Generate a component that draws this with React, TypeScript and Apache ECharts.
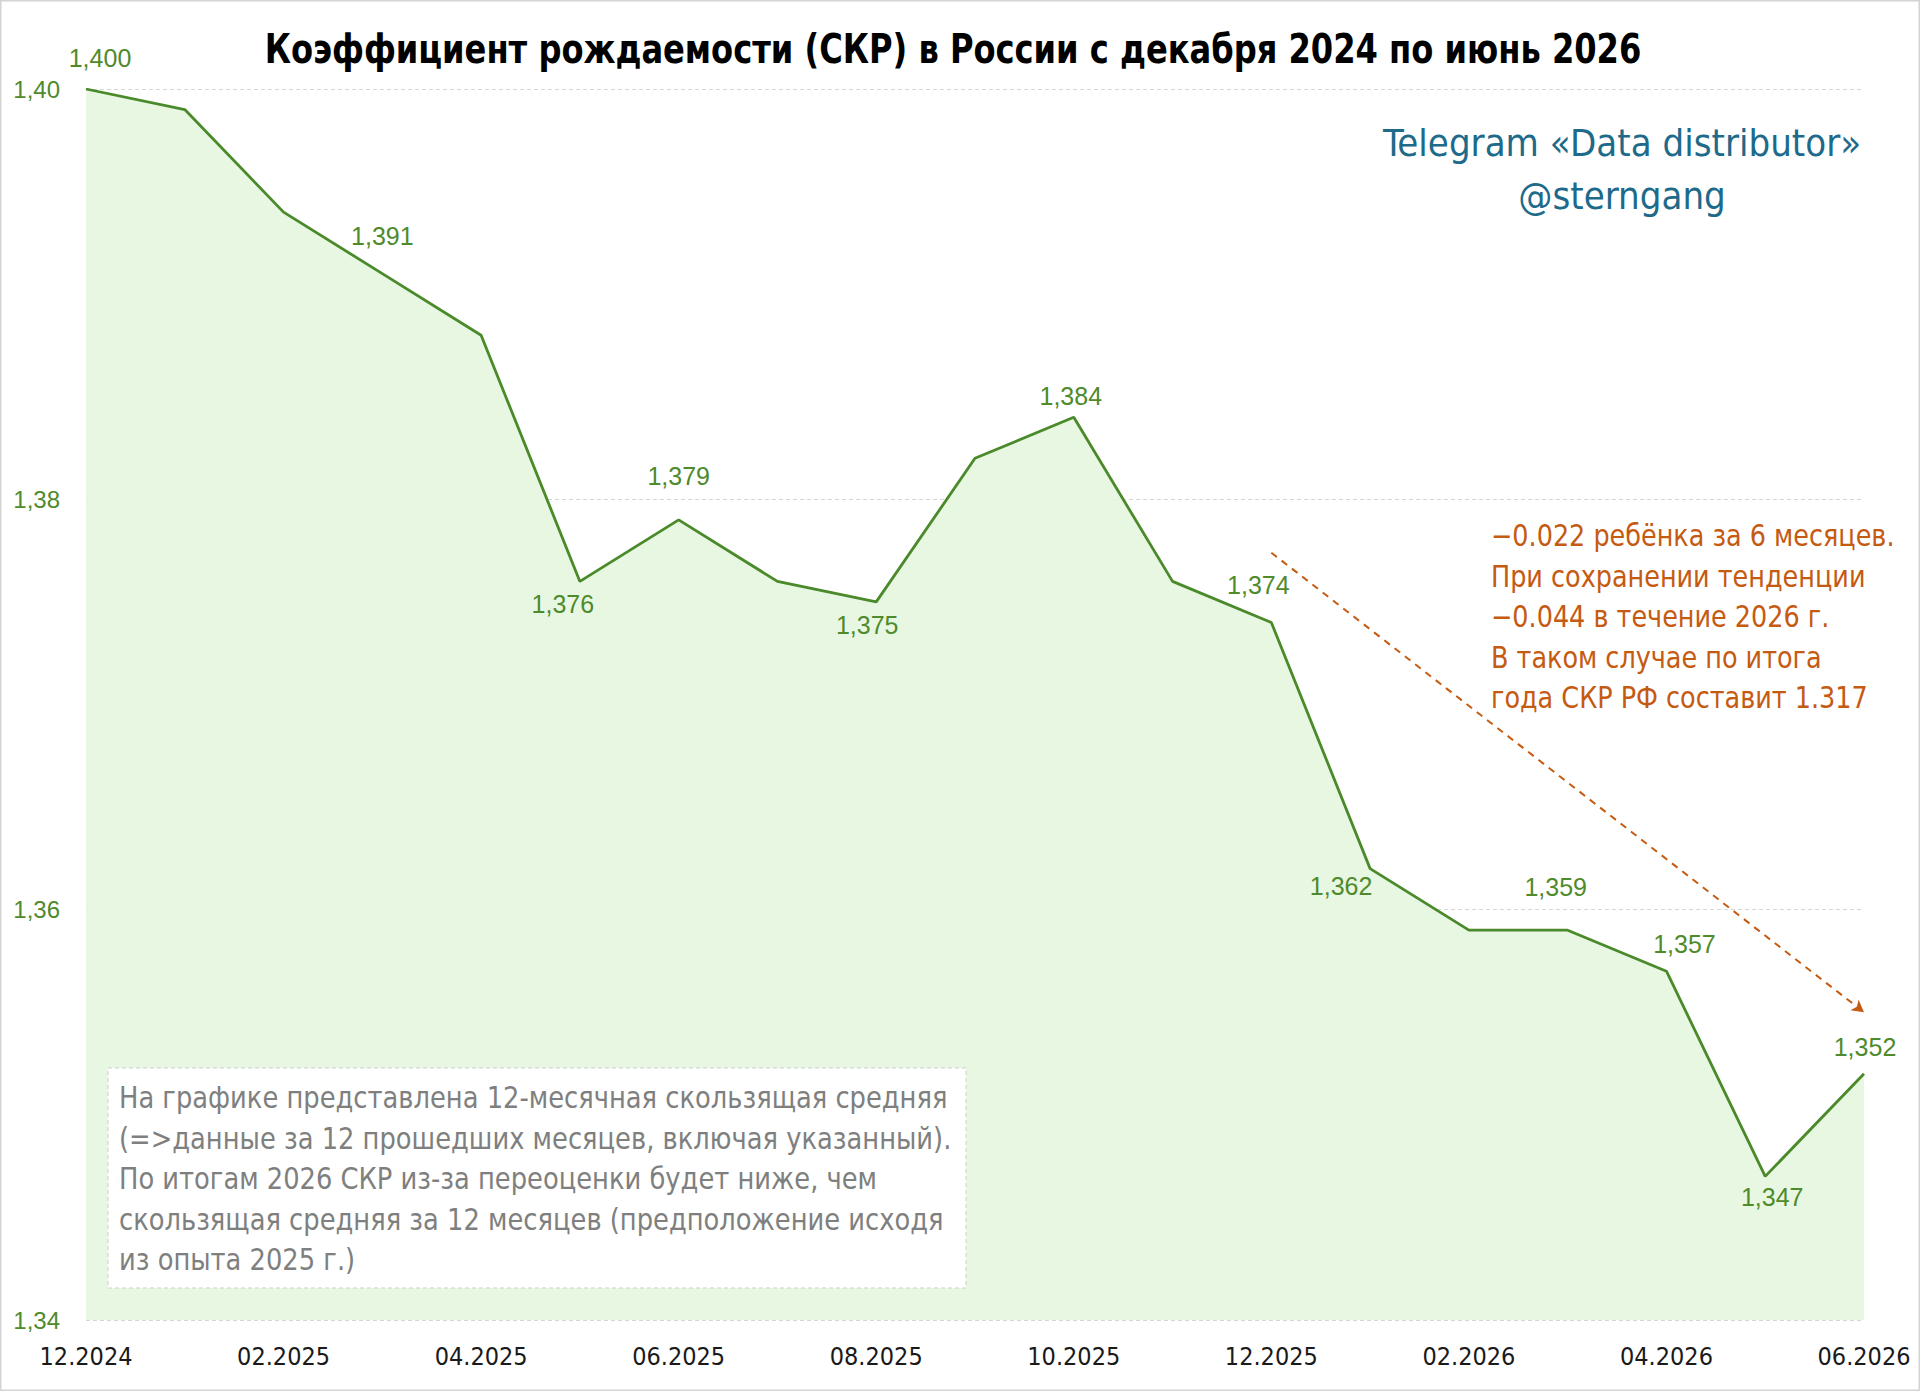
import React, { useEffect, useRef } from "react";
import * as echarts from "echarts";

// Monthly 12-month moving average of the total fertility rate (СКР)
const months = [
  "12.2024", "01.2025", "02.2025", "03.2025", "04.2025", "05.2025", "06.2025",
  "07.2025", "08.2025", "09.2025", "10.2025", "11.2025", "12.2025", "01.2026",
  "02.2026", "03.2026", "04.2026", "05.2026", "06.2026",
];
const ckr = [
  1.4, 1.399, 1.394, 1.391, 1.388, 1.376, 1.379, 1.376, 1.375, 1.382,
  1.384, 1.376, 1.374, 1.362, 1.359, 1.359, 1.357, 1.347, 1.352,
];
// Months whose value is printed next to the line
const labelledMonths = [
  "12.2024", "03.2025", "05.2025", "06.2025", "08.2025", "10.2025",
  "12.2025", "01.2026", "03.2026", "04.2026", "05.2026", "06.2026",
];
const yMin = 1.34;
const yMax = 1.4;
const yStep = 0.02;
// Dashed trend arrow: start and end in data coordinates
const trendStart: [string, number] = ["12.2025", 1.3774];
const trendEnd: [string, number] = ["06.2026", 1.355];

const titleText = "Коэффициент рождаемости (СКР) в России с декабря 2024 по июнь 2026";
const brandLines = ["Telegram «Data distributor»", "@sterngang"];
const trendNote = [
  "−0.022 ребёнка за 6 месяцев.",
  "При сохранении тенденции",
  "−0.044 в течение 2026 г.",
  "В таком случае по итога",
  "года СКР РФ составит 1.317",
];
const methodNote = [
  "На графике представлена 12-месячная скользящая средняя",
  "(=>данные за 12 прошедших месяцев, включая указанный).",
  "По итогам 2026 СКР из-за переоценки будет ниже, чем",
  "скользящая средняя за 12 месяцев (предположение исходя",
  "из опыта 2025 г.)",
];

// Where each printed value sits relative to its point, in pixels
const labelOffsets: Record<string, [number, number]> = {
  "12.2024": [14, -31],
  "03.2025": [0, -38],
  "05.2025": [-17, 23],
  "06.2025": [0, -44],
  "08.2025": [-9, 23],
  "10.2025": [-3, -21],
  "12.2025": [-13, -37],
  "01.2026": [-29, 17],
  "03.2026": [-12, -43],
  "04.2026": [18, -27],
  "05.2026": [7, 21],
  "06.2026": [1, -27],
};

const NARROW = "'Liberation Sans Narrow', 'Arial Narrow', 'DejaVu Sans Condensed', sans-serif";
const SANS = "'Liberation Sans', Arial, sans-serif";
const GREEN = "#4f8a2b";
const LINE_GREEN = "#4a8a2a";
const ORANGE = "#c55a11";

const fmt = (v: number, digits: number) => v.toFixed(digits).replace(".", ",");

export default function App() {
  const ref = useRef<HTMLDivElement>(null);

  useEffect(() => {
    document.body.style.margin = "0";
    if (!ref.current) return;
    const chart = echarts.init(ref.current, undefined, { renderer: "svg" });

    const seriesData = months.map((m, i) => {
      const off = labelOffsets[m];
      const show = labelledMonths.includes(m);
      return {
        value: ckr[i],
        label: show
          ? {
              show: true,
              position: "inside",
              offset: off,
              formatter: () => fmt(ckr[i], 3),
            }
          : { show: false },
      };
    });

    const noteLineH = 40.5;
    const trendLineH = 40.5;

    chart.setOption({
      animation: false,
      backgroundColor: "#ffffff",
      grid: { left: 86, right: 56, top: 89, bottom: 71, containLabel: false },
      xAxis: {
        type: "category",
        data: months,
        boundaryGap: false,
        axisLine: { show: false },
        axisTick: { show: false },
        axisLabel: {
          interval: 1,
          margin: 24,
          color: "#1a1a1a",
          fontFamily: NARROW,
          fontSize: 25,
        },
        splitLine: { show: false },
      },
      yAxis: {
        type: "value",
        min: yMin,
        max: yMax,
        interval: yStep,
        axisLine: { show: false },
        axisTick: { show: false },
        axisLabel: {
          color: GREEN,
          fontFamily: SANS,
          fontSize: 24,
          margin: 26,
          formatter: (v: number) => fmt(v, 2),
        },
        splitLine: {
          show: true,
          lineStyle: { color: "#d6d6d6", type: [4, 3], width: 1 },
        },
      },
      series: [
        {
          type: "line",
          data: seriesData,
          symbol: "circle",
          symbolSize: 1,
          showSymbol: true,
          itemStyle: { color: "rgba(0,0,0,0)" },
          lineStyle: { color: LINE_GREEN, width: 2.8 },
          areaStyle: { color: "#e5f6e0", opacity: 0.92, origin: "start" },
          label: {
            color: GREEN,
            fontFamily: SANS,
            fontSize: 25,
            align: "center",
            verticalAlign: "middle",
          },
          z: 2,
          markLine: {
            silent: true,
            symbol: ["none", "arrow"],
            symbolSize: [10, 12],
            label: { show: false },
            lineStyle: { color: ORANGE, type: [7, 6], width: 2 },
            data: [[{ coord: trendStart }, { coord: trendEnd }]],
          },
        },
      ],
      graphic: [
        {
          type: "rect",
          shape: { x: 0.5, y: 0.5, width: 1919, height: 1390 },
          style: { fill: "none", stroke: "#d4d4d4", lineWidth: 2 },
          silent: true,
        },
        {
          type: "text",
          x: 953,
          y: 49,
          scaleX: 0.893,
          style: {
            text: titleText,
            fill: "#000000",
            font: `bold 40px ${NARROW}`,
            textAlign: "center",
            textVerticalAlign: "middle",
          },
        },
        ...brandLines.map((t, i) => ({
          type: "text",
          x: 1622,
          y: 143 + i * 53,
          style: {
            text: t,
            fill: "#1d6a8a",
            font: `38px ${NARROW}`,
            textAlign: "center",
            textVerticalAlign: "middle",
          },
        })),
        ...trendNote.map((t, i) => ({
          type: "text",
          x: 1491,
          y: 536 + i * trendLineH,
          scaleX: 0.945,
          style: {
            text: t,
            fill: ORANGE,
            font: `30px ${NARROW}`,
            textAlign: "left",
            textVerticalAlign: "middle",
          },
        })),
        {
          type: "rect",
          shape: { x: 108, y: 1068, width: 858, height: 220 },
          style: {
            fill: "rgba(255,255,255,0.95)",
            stroke: "#cfcfcf",
            lineWidth: 1,
            lineDash: [4, 3],
          },
          z: 10,
        },
        ...methodNote.map((t, i) => ({
          type: "text",
          x: 119,
          y: 1098 + i * noteLineH,
          z: 11,
          scaleX: 0.955,
          style: {
            text: t,
            fill: "#7f7f7f",
            font: `30px ${NARROW}`,
            textAlign: "left",
            textVerticalAlign: "middle",
          },
        })),
      ],
    });

    return () => chart.dispose();
  }, []);

  return <div ref={ref} style={{ width: 1920, height: 1391 }} />;
}
